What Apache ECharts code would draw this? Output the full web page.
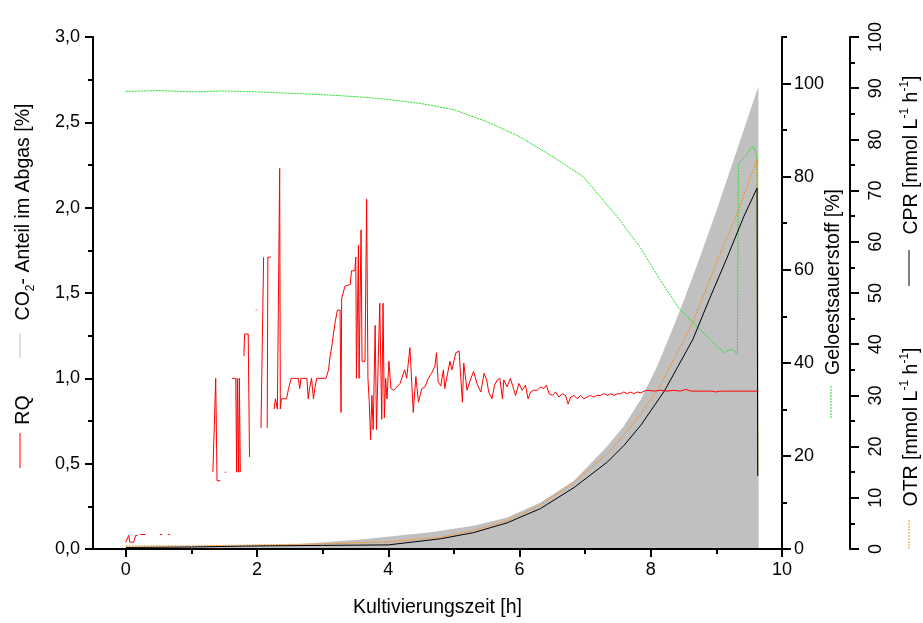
<!DOCTYPE html>
<html>
<head>
<meta charset="utf-8">
<script src="https://cdn.jsdelivr.net/npm/echarts@6/dist/echarts.min.js"></script>
<style>html,body{margin:0;padding:0;background:#fff}#c{width:923px;height:623px}</style>
</head>
<body>
<div id="c"></div>
<script>
// ---- data (time in h) ----
const X_MAJOR = [0, 2, 4, 6, 8, 10];
const X_MINOR = [1, 3, 5, 7, 9];
const L_MINOR = [0.25, 0.75, 1.25, 1.75, 2.25, 2.75];
const DO_MAJOR = [0, 20, 40, 60, 80, 100];
const DO_MINOR = [10, 30, 50, 70, 90, 110];

// CO2 fraction in off-gas [%] (left axis)
const CO2 = [[0,0.010],[0.63,0.011],[1.65,0.016],[2.66,0.029],[3.67,0.058],[4.2,0.08],[4.68,0.10],[4.8,0.107],[5.30,0.136],[5.81,0.185],[6.32,0.273],[6.83,0.40],[7.34,0.604],[7.59,0.721],[7.85,0.877],[8.10,1.072],[8.35,1.306],[8.51,1.462],[8.74,1.70],[9.0,1.98],[9.64,2.71],[9.645,0]];

// Dissolved oxygen [%] (right axis 1)
const DO2 = [[0,98.3],[0.5,98.5],[1,98.2],[1.5,98.4],[2,98.2],[2.5,97.9],[3,97.6],[3.5,97.2],[4,96.6],[4.5,95.7],[5,94.4],[5.5,91.8],[6,88.6],[6.46,84.7],[6.97,80.0],[7.48,71.5],[7.83,65.0],[8.14,57.9],[8.44,51.5],[8.75,47.2],[9.0,43.6],[9.12,42.2],[9.15,41.8],[9.22,42.9],[9.28,42.5],[9.32,41.8],[9.335,82.6],[9.38,83.5],[9.45,84.4],[9.53,86.2],[9.57,86.4],[9.60,85.4],[9.62,83.7],[9.63,15.7]];

// OTR [mmol L-1 h-1] (right axis 2)
const OTR = [[0,0.6],[1,0.6],[2,0.8],[3,1.0],[4,1.4],[4.8,2.3],[5.3,3.6],[5.81,5.5],[6.32,8.6],[6.83,13.0],[7.34,18.6],[7.59,22.2],[7.85,26.5],[8.10,30.9],[8.64,44.2],[9.02,56.5],[9.30,65.0],[9.62,76.0],[9.63,14.3]];

// CPR [mmol L-1 h-1] (right axis 2)
const CPR = [[0,0.3],[1,0.4],[2,0.6],[3,0.7],[4,0.8],[4.8,2.0],[5.3,3.2],[5.81,5.1],[6.32,7.9],[6.83,12.0],[7.34,17.0],[7.59,20.2],[7.85,24.2],[8.21,30.9],[8.64,40.9],[8.89,48.7],[9.15,56.5],[9.42,65.0],[9.62,70.5],[9.63,14.3]];

// RQ (left axis), null = gap
const RQ = [[0.0,0.04],[0.03,0.04],[0.045,0.08],[0.06,0.04],[0.12,0.04],[0.15,0.08],[0.18,0.08],null,
[0.22,0.085],[0.3,0.085],null,[0.52,0.085],[0.55,0.085],null,[0.64,0.085],[0.67,0.085],null,
[1.327,0.45],[1.35,0.45],[1.37,1.0],[1.39,0.40],[1.44,0.40],null,
[1.51,0.45],[1.53,0.45],null,
[1.62,1.0],[1.675,1.0],[1.69,0.45],[1.70,1.0],[1.72,0.45],[1.73,1.0],[1.745,0.45],null,
[1.80,1.13],[1.81,1.26],[1.865,1.26],[1.885,0.54],null,
[1.98,1.40],[1.995,1.40],null,
[2.06,0.71],[2.09,0.71],[2.10,1.71],null,
[2.155,0.71],[2.165,1.71],[2.21,1.71],null,
[2.26,0.82],[2.28,0.88],[2.30,0.88],[2.31,0.82],[2.335,0.82],[2.345,2.23],[2.355,0.82],[2.37,0.88],[2.45,0.88],[2.48,0.94],[2.52,1.0],[2.63,1.0],[2.65,0.94],[2.67,1.0],[2.76,1.0],[2.78,0.88],[2.80,0.94],[2.83,1.0],[2.86,0.88],[2.88,0.94],[2.91,1.0],[3.05,1.0],
[3.09,1.05],[3.11,1.12],[3.14,1.19],[3.19,1.33],[3.225,1.40],[3.265,1.40],[3.28,0.80],[3.29,1.47],[3.34,1.54],[3.37,1.55],[3.42,1.55],[3.44,1.63],[3.49,1.63],[3.505,1.71],[3.515,1.0],[3.53,1.0],[3.545,1.78],[3.555,1.0],[3.57,1.0],[3.585,1.87],[3.60,1.10],[3.645,1.10],[3.67,2.05],[3.69,1.0],[3.71,0.86],[3.73,0.64],[3.75,0.90],[3.77,0.70],[3.80,1.31],[3.82,0.70],[3.85,0.70],[3.87,1.44],[3.90,0.76],[3.92,1.44],[3.94,0.77],[3.96,1.0],[3.98,0.88],[4.01,1.10],[4.04,0.94],[4.08,0.93],[4.13,0.95],[4.18,0.97],[4.23,1.03],[4.25,1.05],[4.28,1.0],[4.33,1.18],[4.38,0.80],[4.42,1.01],[4.46,0.86],[4.51,0.94],[4.56,0.95],[4.61,1.0],[4.66,1.03],[4.71,1.07],[4.735,1.15],[4.76,0.98],[4.80,0.955],[4.84,1.05],[4.86,0.94],[4.90,1.02],[4.94,1.10],[4.97,1.05],[5.03,1.15],[5.08,1.16],[5.10,1.03],[5.13,0.86],[5.15,1.09],[5.20,0.93],[5.25,0.99],[5.30,1.04],[5.36,0.96],[5.41,0.92],[5.46,1.03],[5.50,0.99],[5.53,0.92],[5.58,0.88],[5.62,0.96],[5.66,0.99],[5.70,1.0],[5.74,0.88],[5.76,0.99],[5.81,0.95],[5.86,1.0],[5.90,0.95],[5.94,0.90],[5.99,0.97],[6.04,0.93],[6.09,0.96],[6.13,0.88],[6.17,0.92],[6.21,0.93],[6.27,0.93],[6.32,0.95],[6.37,0.94],[6.41,0.96],[6.45,0.91],[6.50,0.90],[6.55,0.92],[6.60,0.89],[6.65,0.91],[6.70,0.90],[6.74,0.85],[6.78,0.89],[6.83,0.90],[6.88,0.88],[6.93,0.90],[6.98,0.88],[7.03,0.89],[7.08,0.90],[7.13,0.89],[7.18,0.90],[7.23,0.90],[7.29,0.91],[7.34,0.90],[7.39,0.91],[7.44,0.90],[7.49,0.91],[7.54,0.91],[7.59,0.92],[7.64,0.91],[7.69,0.92],[7.74,0.91],[7.80,0.92],[7.85,0.915],[7.90,0.925],[7.95,0.93],[8.05,0.925],[8.15,0.93],[8.25,0.925],[8.35,0.93],[8.45,0.925],[8.53,0.935],[8.62,0.925],[8.75,0.925],[8.78,0.92],[8.83,0.925],[8.93,0.925],[8.99,0.92],[9.05,0.925],[9.15,0.925],[9.64,0.925]];

// ---- chart ----
const FONT = '"Liberation Sans", Arial, sans-serif';
const chart = echarts.init(document.getElementById('c'), null, {renderer: 'canvas'});
const axisLineStyle = {color: '#000', width: 2};
const lbl = {color: '#000', fontSize: 18, fontFamily: FONT};
const rqData = RQ.map(p => p === null ? ['-', '-'] : p);

const titleRich = {
  n: {fontSize: 19.5, fontFamily: FONT, color: '#000', lineHeight: 26},
  sub: {fontSize: 12, fontFamily: FONT, color: '#000', lineHeight: 13, verticalAlign: 'bottom'},
  sup: {fontSize: 12, fontFamily: FONT, color: '#000', lineHeight: 13, verticalAlign: 'top'}
};
function vtext(x, y, text) {
  return {type: 'text', x: x, y: y, rotation: Math.PI / 2,
    style: {text: text, rich: titleRich, align: 'center', verticalAlign: 'middle'}};
}
function vline(x, y1, y2, color, dash) {
  return {type: 'line', shape: {x1: x, y1: y1, x2: x, y2: y2},
    style: {stroke: color, lineWidth: 1, lineDash: dash || null}};
}
function minorAxis(extra) {
  return Object.assign({type: 'value', z: 10,
    axisLine: {show: false, onZero: false},
    axisLabel: {show: false}, splitLine: {show: false}}, extra);
}

chart.setOption({
  animation: false,
  backgroundColor: '#fff',
  grid: {left: 93, right: 141, top: 37, bottom: 73, containLabel: false},
  xAxis: [
    {type: 'value', min: -0.5, max: 10, z: 10,
     name: 'Kultivierungszeit [h]', nameLocation: 'middle', nameGap: 49,
     nameTextStyle: {fontSize: 19.5, fontFamily: FONT, color: '#000'},
     axisLine: {show: true, onZero: false, lineStyle: axisLineStyle},
     axisTick: {show: true, length: 8, lineStyle: axisLineStyle, customValues: X_MAJOR},
     axisLabel: Object.assign({margin: 12, customValues: X_MAJOR}, lbl),
     splitLine: {show: false}},
    minorAxis({min: -0.5, max: 10, position: 'bottom',
     axisTick: {show: true, length: 5, lineStyle: axisLineStyle, customValues: X_MINOR}})
  ],
  yAxis: [
    {type: 'value', min: 0, max: 3, interval: 0.5, position: 'left', z: 10,
     axisLine: {show: true, onZero: false, lineStyle: axisLineStyle},
     axisTick: {show: true, length: 8, lineStyle: axisLineStyle},
     axisLabel: Object.assign({margin: 13, formatter: v => v.toFixed(1).replace('.', ',')}, lbl),
     splitLine: {show: false}},
    {type: 'value', min: 0, max: 110, position: 'right', offset: 0, z: 10,
     axisLine: {show: true, onZero: false, lineStyle: axisLineStyle},
     axisTick: {show: true, length: 9, lineStyle: axisLineStyle, customValues: DO_MAJOR},
     axisLabel: Object.assign({margin: 12, customValues: DO_MAJOR}, lbl),
     splitLine: {show: false}},
    minorAxis({min: 0, max: 110, position: 'right', offset: 0,
     axisTick: {show: true, length: 5, lineStyle: axisLineStyle, customValues: DO_MINOR}}),
    {type: 'value', min: 0, max: 100, interval: 10, position: 'right', offset: 68, z: 10,
     axisLine: {show: true, onZero: false, lineStyle: axisLineStyle},
     axisTick: {show: true, length: 9, lineStyle: axisLineStyle},
     minorTick: {show: true, splitNumber: 2, length: 5, lineStyle: axisLineStyle},
     axisLabel: Object.assign({margin: 17, rotate: 90}, lbl),
     splitLine: {show: false}, minorSplitLine: {show: false}},
    minorAxis({min: 0, max: 3, position: 'left', offset: 0,
     axisTick: {show: true, length: 5, lineStyle: axisLineStyle, customValues: L_MINOR}})
  ],
  series: [
    {type: 'line', name: 'CO2', xAxisIndex: 0, yAxisIndex: 0, data: CO2, showSymbol: false,
     lineStyle: {width: 0, color: '#c0c0c0'}, areaStyle: {color: '#c0c0c0', opacity: 1}, z: 1},
    {type: 'line', name: 'DO', xAxisIndex: 0, yAxisIndex: 1, data: DO2, showSymbol: false,
     lineStyle: {width: 1, color: '#22e022', type: [2, 1]}, z: 3},
    {type: 'line', name: 'OTR', xAxisIndex: 0, yAxisIndex: 3, data: OTR, showSymbol: false,
     lineStyle: {width: 1, color: '#ff8c1a', type: [2, 1]}, z: 4},
    {type: 'line', name: 'CPR', xAxisIndex: 0, yAxisIndex: 3, data: CPR, showSymbol: false,
     lineStyle: {width: 1, color: '#000'}, z: 5},
    {type: 'line', name: 'RQ', xAxisIndex: 0, yAxisIndex: 0, data: rqData, showSymbol: false,
     connectNulls: false, lineStyle: {width: 1, color: '#ff0000'}, z: 6}
  ],
  graphic: [
    vtext(24, 212, '{n|CO}{sub|2}{n|- Anteil im Abgas [%]}'),
    vline(20, 333, 358, '#c0c0c0'),
    vtext(24, 410, '{n|RQ}'),
    vline(20, 433, 468, '#ff0000'),
    vtext(834, 282, '{n|Geloestsauerstoff [%]}'),
    vline(831, 386, 418, '#22e022', [2, 1]),
    vtext(912, 155, '{n|CPR [mmol L}{sup|-1}{n| h}{sup|-1}{n|]}'),
    vline(909, 250, 286, '#000'),
    vtext(912, 427, '{n|OTR [mmol L}{sup|-1}{n| h}{sup|-1}{n|]}'),
    vline(909, 520, 549, '#ff8c1a', [2, 1])
  ]
});
</script>
</body>
</html>
